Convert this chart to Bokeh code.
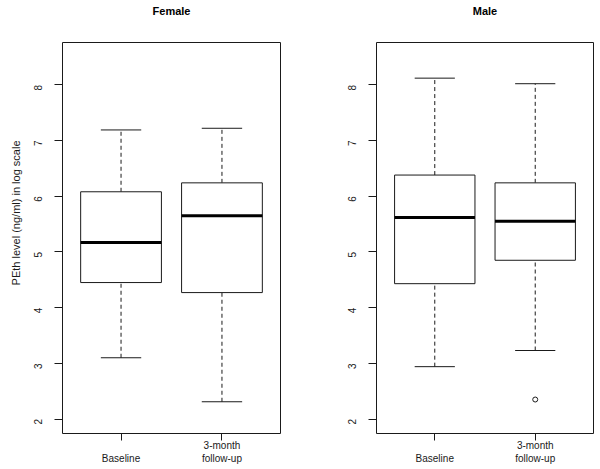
import math
from bokeh.plotting import figure
from bokeh.layouts import row
from bokeh.models import Range1d, FixedTicker, Title
from bokeh.embed import file_html
from bokeh.resources import INLINE

# ---- data ----
groups = ["Baseline", "3-month\nfollow-up"]
y_ticks = [2, 3, 4, 5, 6, 7, 8]

female_lower = [3.10, 2.31]
female_q1 = [4.45, 4.27]
female_median = [5.17, 5.65]
female_q3 = [6.08, 6.24]
female_upper = [7.19, 7.22]
female_outliers = [[], []]

male_lower = [2.94, 3.23]
male_q1 = [4.43, 4.85]
male_median = [5.62, 5.55]
male_q3 = [6.38, 6.24]
male_upper = [8.12, 8.02]
male_outliers = [[], [2.35]]

y_label = "PEth level (ng/ml) in log scale"

FONT = "Liberation Sans"
INK = "#1a1a1a"
X0, X1 = 0.42, 2.58
Y0, Y1 = 1.74, 8.76
H = 469
TOP, BOTTOM = 41, 36


def panel(title, lower, q1, med, q3, upper, outliers, width, left, right, show_label):
    p = figure(width=width, height=H, output_backend="svg", toolbar_location=None,
               title=None,
               x_range=Range1d(X0, X1), y_range=Range1d(Y0, Y1),
               min_border_left=left, min_border_right=right,
               min_border_top=TOP, min_border_bottom=BOTTOM)
    # spacer (nearest the frame) then the real title
    p.add_layout(Title(text=" ", standoff=10, text_font=FONT, text_font_size="11px"), "above")
    p.add_layout(Title(text=title, align="center", standoff=4, text_font=FONT,
                       text_font_size="11px", text_font_style="bold", text_color="black"),
                 "above")
    p.xgrid.visible = False
    p.ygrid.visible = False
    p.outline_line_color = INK
    p.outline_line_width = 1
    p.background_fill_color = "white"
    p.border_fill_color = "white"

    pos = [i + 1 for i in range(len(groups))]
    half = 0.4
    cap = 0.2
    p.segment(x0=pos, y0=q3, x1=pos, y1=upper, line_color=INK, line_width=1, line_dash="4 3")
    p.segment(x0=pos, y0=lower, x1=pos, y1=q1, line_color=INK, line_width=1, line_dash="4 3")
    p.segment(x0=[x - cap for x in pos], y0=upper, x1=[x + cap for x in pos], y1=upper,
              line_color=INK, line_width=1)
    p.segment(x0=[x - cap for x in pos], y0=lower, x1=[x + cap for x in pos], y1=lower,
              line_color=INK, line_width=1)
    p.quad(left=[x - half for x in pos], right=[x + half for x in pos], bottom=q1, top=q3,
           fill_color="white", line_color=INK, line_width=1)
    p.segment(x0=[x - half for x in pos], y0=med, x1=[x + half for x in pos], y1=med,
              line_color="black", line_width=3)
    ox, oy = [], []
    for x, outs in zip(pos, outliers):
        for v in outs:
            ox.append(x)
            oy.append(v)
    if ox:
        p.scatter(ox, oy, marker="circle", size=5, fill_color=None, line_color=INK, line_width=1)

    xa = p.xaxis[0]
    xa.ticker = FixedTicker(ticks=pos)
    xa.major_label_overrides = {pos[0]: "\n" + groups[0], pos[1]: groups[1]}
    xa.axis_line_color = None
    xa.major_tick_line_color = INK
    xa.major_tick_out = 7
    xa.major_tick_in = 0
    xa.minor_tick_out = 0
    xa.minor_tick_in = 0
    xa.major_label_standoff = -1
    xa.major_label_text_font = FONT
    xa.major_label_text_font_size = "10px"
    xa.major_label_text_color = INK

    ya = p.yaxis[0]
    ya.ticker = FixedTicker(ticks=y_ticks)
    ya.axis_line_color = None
    ya.major_tick_line_color = INK
    ya.major_tick_out = 8
    ya.major_tick_in = 0
    ya.minor_tick_out = 0
    ya.minor_tick_in = 0
    ya.major_label_orientation = math.pi / 2
    ya.major_label_standoff = 16
    ya.major_label_text_font = FONT
    ya.major_label_text_font_size = "10px"
    ya.major_label_text_color = INK

    if show_label:
        p.add_layout(Title(text=y_label, align="right", offset=98, standoff=12,
                           text_font=FONT, text_font_size="11px", text_font_style="normal",
                           text_color=INK), "left")
    return p


pf = panel("Female", female_lower, female_q1, female_median, female_q3, female_upper,
           female_outliers, 300, 62, 20, True)
pm = panel("Male", male_lower, male_q1, male_median, male_q3, male_upper,
           male_outliers, 300, 76, 7, False)

layout = row(pf, pm)
open("out.html", "w").write(file_html(layout, INLINE))
